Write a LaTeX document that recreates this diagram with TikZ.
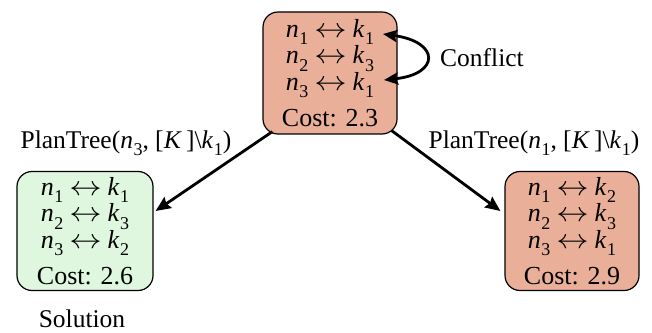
\documentclass[tikz,border=0pt]{standalone}
\usepackage{graphicx}
\usepackage{fontspec}
\setmainfont{Liberation Serif}
\usetikzlibrary{arrows.meta,calc}
\definecolor{salmon}{RGB}{233,175,152}
\definecolor{mint}{RGB}{223,246,223}
% italic letter with a lowered index
\newcommand\ix[2]{\textit{#1}\kern0.5pt\raisebox{-0.28em}{\fontsize{18}{18}\selectfont #2}}
\newcommand\pair[2]{\ix{n}{#1}\kern6pt\scalebox{1.3}[1.1]{$\leftrightarrow$}\kern6pt\ix{k}{#2}}
\tikzset{
  state/.style={draw=black, line width=1.2pt, rounded corners=15pt,
    minimum width=135pt, minimum height=119pt, inner sep=0pt,
    align=center, font=\rmfamily\fontsize{26}{22.5}\selectfont},
  lbl/.style={font=\rmfamily\fontsize{25.5}{27}\selectfont, inner sep=0pt},
  link/.style={line width=2.8pt, -{Stealth[length=15pt,width=13pt,inset=2pt]}},
  twotip/.style={line width=2.8pt,
    {Stealth[length=14pt,width=12pt,inset=2pt]}-{Stealth[length=14pt,width=12pt,inset=2pt]}},
}
\begin{document}
\begin{tikzpicture}[x=1pt,y=1pt]
\useasboundingbox (0,0) rectangle (652,332);
\node[state, fill=salmon, minimum height=122pt, minimum width=134pt] (top) at (330,259)
  {\pair11\\\pair23\\\pair31\\[10pt]Cost: 2.3};
\node[state, fill=mint, minimum width=136pt] (left) at (85,101)
  {\pair11\\\pair23\\\pair32\\[10pt]Cost: 2.6};
\node[state, fill=salmon, minimum width=134pt] (right) at (572,101)
  {\pair12\\\pair23\\\pair31\\[10pt]Cost: 2.9};

\node[lbl] (lt) at (126,189) {PlanTree(\ix{n}{3}, [\textit{K}\,]\textbackslash\ix{k}{1})};
\node[lbl] (rt) at (534,189) {PlanTree(\ix{n}{1}, [\textit{K}\,]\textbackslash\ix{k}{1})};
\node[lbl] (sol) at (82,13) {Solution};
\node[lbl] (cf) at (482,274) {Conflict};

\draw[link] ($(top.south west)+(10,3)$) -- ($(left.east)+(2,20)$);
\draw[link] ($(top.south east)+(-6,4)$) -- ($(right.west)+(-4,20)$);

\coordinate (c1) at (383,298);
\coordinate (c3) at (384,252);
\draw[twotip] (c1) .. controls (440,290) and (440,258) .. (c3);
\end{tikzpicture}
\end{document}
